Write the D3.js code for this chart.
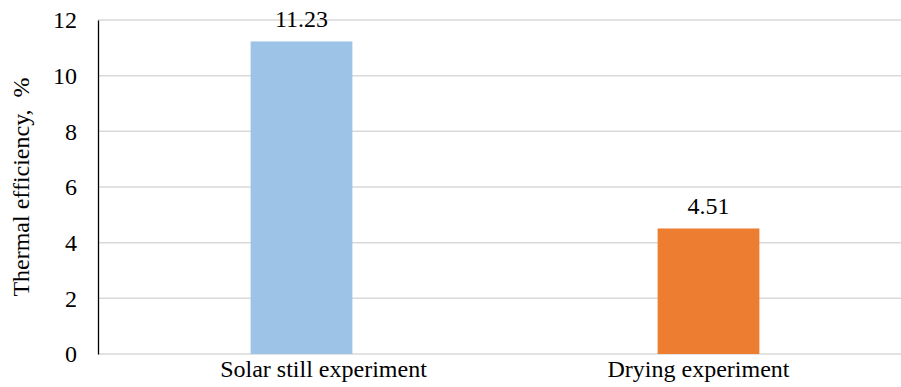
<!DOCTYPE html>
<html>
<head>
<meta charset="utf-8">
<script src="https://cdn.jsdelivr.net/npm/d3@7"></script>
<style>
  html, body { margin: 0; padding: 0; background: #fff; }
  svg { display: block; }
</style>
</head>
<body>
<svg id="chart" width="901" height="387"></svg>
<script>
const categories = ["Solar still experiment", "Drying experiment"];
const values = [11.23, 4.51];
const valueLabels = ["11.23", "4.51"];
const barColors = ["#9DC3E6", "#ED7D31"];
const yTicks = [0, 2, 4, 6, 8, 10, 12];
const yTitle = "Thermal efficiency,  %";

const FONT = "Liberation Serif";
const labelShift = [22, -10];   // category labels are slightly off-centre in the original
const svg = d3.select("#chart");
const plotLeft = 98, plotRight = 912, plotTop = 20, plotBottom = 354;

const x = d3.scaleBand().domain(categories).range([plotLeft, plotRight]).paddingInner(0.75).paddingOuter(0.375);
const y = d3.scaleLinear().domain([0, 12]).range([plotBottom, plotTop]);

// gridlines
svg.append("g").selectAll("line").data(yTicks).join("line")
  .attr("x1", plotLeft).attr("x2", plotRight)
  .attr("y1", d => y(d)).attr("y2", d => y(d))
  .attr("stroke", "#d9d9d9").attr("stroke-width", 1.5);

// bars
svg.append("g").selectAll("rect").data(values).join("rect")
  .attr("x", (d, i) => x(categories[i]))
  .attr("width", x.bandwidth())
  .attr("y", d => y(d))
  .attr("height", d => y(0) - y(d))
  .attr("fill", (d, i) => barColors[i]);

// left axis
const yAxis = d3.axisLeft(y).tickValues(yTicks).tickSize(0).tickPadding(21).tickFormat(d3.format("d"));
const gy = svg.append("g").attr("transform", `translate(${plotLeft},0)`).call(yAxis);
gy.select(".domain").attr("stroke", "#000").attr("stroke-width", 1.3);
gy.selectAll("text").style("font-family", FONT).style("font-size", "24px").attr("fill", "#000");

// bottom axis labels
const xAxis = d3.axisBottom(x).tickSize(0).tickPadding(6);
const gx = svg.append("g").attr("transform", `translate(0,${plotBottom})`).call(xAxis);
gx.select(".domain").remove();
gx.selectAll("text")
  .attr("dx", (d, i) => labelShift[i])
  .style("font-family", FONT).style("font-size", "24px").attr("fill", "#000");

// value labels
svg.append("g").selectAll("text").data(values).join("text")
  .attr("x", (d, i) => x(categories[i]) + x.bandwidth() / 2)
  .attr("y", d => y(d) - 14)
  .attr("text-anchor", "middle")
  .attr("fill", "#000")
  .style("font-family", FONT).style("font-size", "24px")
  .text((d, i) => valueLabels[i]);

// y title
svg.append("text")
  .attr("transform", `translate(29,${(plotTop + plotBottom) / 2}) rotate(-90)`)
  .attr("text-anchor", "middle")
  .attr("fill", "#000")
  .style("font-family", FONT).style("font-size", "24px")
  .style("white-space", "pre")
  .text(yTitle);
</script>
</body>
</html>
